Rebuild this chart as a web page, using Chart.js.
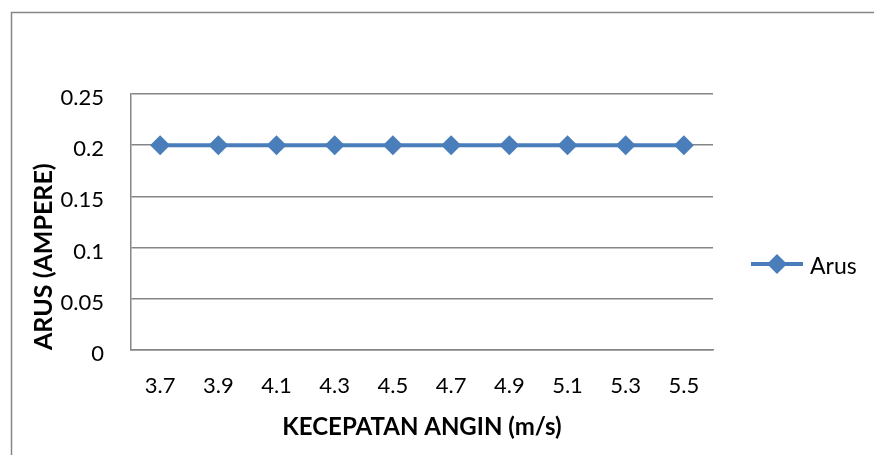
<!DOCTYPE html>
<html>
<head>
<meta charset="utf-8">
<title>Arus vs Kecepatan Angin</title>
<script src="https://cdn.jsdelivr.net/npm/chart.js@4/dist/chart.umd.min.js"></script>
<style>
    html, body { margin: 0; padding: 0; background: #fff; }
    canvas { display: block; }
</style>
</head>
<body>
<canvas id="arusChart" width="874" height="455"></canvas>
<script>
// data
const kecepatan = ["3.7", "3.9", "4.1", "4.3", "4.5", "4.7", "4.9", "5.1", "5.3", "5.5"];
const arus = [0.2, 0.2, 0.2, 0.2, 0.2, 0.2, 0.2, 0.2, 0.2, 0.2];
const yTickLabels = ["0", "0.05", "0.1", "0.15", "0.2", "0.25"];

const fontFamily = "Lato, 'Open Sans', sans-serif";
const biru = "#4A7EBB";
const abu = "#868686";

// frame of the chart + legend like Excel
const excelLook = {
    id: "excelLook",
    beforeDraw(chart) {
        const ctx = chart.ctx;
        ctx.save();
        ctx.strokeStyle = abu;
        ctx.lineWidth = 1.5;
        ctx.beginPath();
        ctx.moveTo(11.5, 455);
        ctx.lineTo(11.5, 12.5);
        ctx.lineTo(874, 12.5);
        ctx.stroke();
        ctx.restore();
    },
    afterDraw(chart) {
        const ctx = chart.ctx;
        const ds = chart.data.datasets[0];
        const y = 264;
        ctx.save();
        ctx.strokeStyle = biru;
        ctx.lineWidth = 4;
        ctx.beginPath();
        ctx.moveTo(751, y);
        ctx.lineTo(803, y);
        ctx.stroke();
        ctx.fillStyle = biru;
        ctx.beginPath();
        ctx.moveTo(777, y - 10);
        ctx.lineTo(787, y);
        ctx.lineTo(777, y + 10);
        ctx.lineTo(767, y);
        ctx.closePath();
        ctx.fill();
        ctx.fillStyle = "#000";
        ctx.font = "23px " + fontFamily;
        ctx.textBaseline = "middle";
        ctx.fillText(ds.label, 810, y + 3);
        ctx.restore();
    }
};

const ctx = document.getElementById("arusChart").getContext("2d");
new Chart(ctx, {
    type: "line",
    data: {
        labels: kecepatan,
        datasets: [{
            label: "Arus",
            data: arus,
            borderColor: biru,
            backgroundColor: biru,
            borderWidth: 4,
            pointStyle: "rectRot",
            pointRadius: 10,
            pointHoverRadius: 10,
            pointBorderWidth: 0,
            pointBackgroundColor: biru,
            tension: 0,
            fill: false
        }]
    },
    options: {
        responsive: false,
        animation: false,
        layout: {
            padding: { left: 20, top: 94, right: 161, bottom: 10 }
        },
        plugins: {
            legend: { display: false },
            tooltip: { enabled: false }
        },
        scales: {
            x: {
                offset: true,
                afterFit(scale) { scale.height = 95; },
                grid: { display: false, drawTicks: false },
                border: { display: true, color: abu, width: 1.5 },
                ticks: {
                    color: "#000",
                    padding: 23,
                    maxRotation: 0,
                    font: { family: fontFamily, size: 22 }
                },
                title: {
                    display: true,
                    text: "KECEPATAN ANGIN (m/s)",
                    color: "#000",
                    padding: { top: 0, bottom: 3 },
                    font: { family: fontFamily, size: 24, weight: "bold" }
                }
            },
            y: {
                min: 0,
                max: 0.25,
                afterFit(scale) { scale.width = 111; },
                grid: {
                    color: abu,
                    lineWidth: 1.5,
                    drawTicks: false
                },
                border: { display: true, color: abu, width: 1.5 },
                ticks: {
                    stepSize: 0.05,
                    color: "#000",
                    padding: 27,
                    labelOffset: 4,
                    font: { family: fontFamily, size: 22 },
                    callback: (value, i) => yTickLabels[i]
                },
                title: {
                    display: true,
                    text: "ARUS (AMPERE)",
                    color: "#000",
                    align: "start",
                    padding: { top: 9, bottom: 0 },
                    font: { family: fontFamily, size: 25, weight: "bold" }
                }
            }
        }
    },
    plugins: [excelLook]
});
</script>
</body>
</html>
